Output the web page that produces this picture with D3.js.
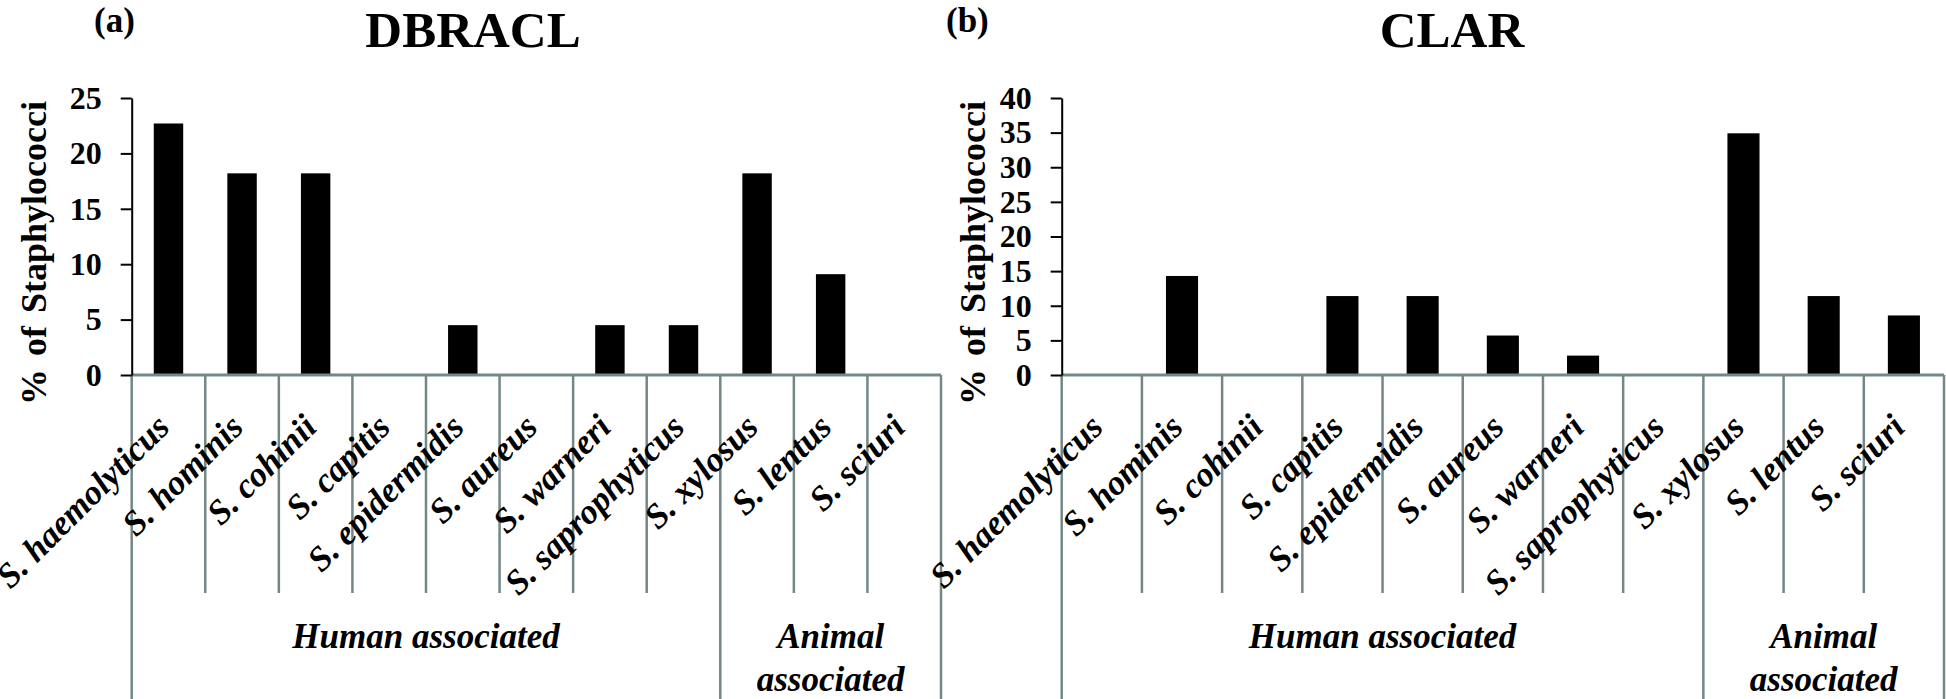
<!DOCTYPE html>
<html>
<head>
<meta charset="utf-8">
<script src="https://cdn.jsdelivr.net/npm/d3@7"></script>
<style>
    body { margin: 0; background: #fff; }
    svg text { font-family: "Liberation Serif", "Times New Roman", serif; font-weight: bold; fill: #000; }
</style>
</head>
<body>
<div id="svgholder"></div>
<script>
const species = ["S. haemolyticus", "S. hominis", "S. cohinii", "S. capitis", "S. epidermidis",
    "S. aureus", "S. warneri", "S. saprophyticus", "S. xylosus", "S. lentus", "S. sciuri"];
const dbraclValues = [22.7, 18.2, 18.2, 0, 4.5, 0, 4.5, 4.5, 18.2, 9.1, 0];
const clarValues = [0, 14.3, 0, 11.4, 11.4, 5.7, 2.8, 0, 34.9, 11.4, 8.6];
const dbraclTicks = [0, 5, 10, 15, 20, 25];
const clarTicks = [0, 5, 10, 15, 20, 25, 30, 35, 40];
const groupNames = [["Human associated"], ["Animal", "associated"]];
const groupStart = [0, 8];
const groupEnd = [8, 11];

const width = 1946;
const height = 699;
const grey = "#738787";

let svg = d3.select("#svgholder").append("svg")
    .attr("width", width)
    .attr("height", height);

const drawPanel = function(p){
    let g = svg.append("g");

    //scales
    let y = d3.scaleLinear().domain([0, p.max]).range([375, 98]);
    let cat = d3.scaleBand().domain(species).range([p.left, p.right]);
    let x = d3.scaleBand().domain(species).range([p.left, p.right])
        .paddingInner(0.6).paddingOuter(0.3);

    //bars
    g.selectAll("rect.bar").data(p.values).enter().append("rect")
        .attr("class", "bar")
        .attr("x", (d, i) => x(species[i]))
        .attr("width", x.bandwidth())
        .attr("y", d => y(d))
        .attr("height", d => y(0) - y(d))
        .attr("fill", "#000");

    //category separators, long ones at group borders
    let edges = d3.range(species.length + 1);
    g.selectAll("line.sep").data(edges).enter().append("line")
        .attr("x1", i => p.left + i * cat.step())
        .attr("x2", i => p.left + i * cat.step())
        .attr("y1", y(0))
        .attr("y2", i => (groupStart.includes(i) || i === species.length) ? height : 593)
        .attr("stroke", grey)
        .attr("stroke-width", 2.5);

    //baseline
    g.append("line")
        .attr("x1", p.left).attr("x2", p.right)
        .attr("y1", y(0)).attr("y2", y(0))
        .attr("stroke", grey).attr("stroke-width", 3);

    //Y axis
    let axis = g.append("g")
        .attr("transform", `translate(${p.left},0)`)
        .call(d3.axisLeft(y).tickValues(p.ticks).tickSizeInner(11).tickSizeOuter(0).tickPadding(19));
    axis.select(".domain").attr("stroke", "#000").attr("stroke-width", 2);
    axis.selectAll(".tick line").attr("stroke", "#000").attr("stroke-width", 2);
    axis.selectAll(".tick text")
        .style("font-family", "'Liberation Serif', serif")
        .style("font-weight", "bold")
        .style("font-size", "32px")
        .attr("fill", "#000");

    //rotated category labels
    g.selectAll("text.cat").data(species).enter().append("text")
        .attr("class", "cat")
        .attr("transform", d => `translate(${cat(d) + cat.bandwidth() / 2 + 3},429) rotate(-45)`)
        .attr("text-anchor", "end")
        .style("font-style", "italic")
        .style("font-size", "35px")
        .text(d => d);

    //group labels
    groupNames.forEach((lines, k) => {
        let cx = (p.left + groupStart[k] * cat.step() + p.left + groupEnd[k] * cat.step()) / 2;
        lines.forEach((t, j) => {
            g.append("text")
                .attr("x", cx)
                .attr("y", 648 + j * 43)
                .attr("text-anchor", "middle")
                .style("font-style", "italic")
                .style("font-size", "35px")
                .text(t);
        });
    });

    //y title
    g.append("text")
        .attr("transform", `translate(${p.yTitleX},405) rotate(-90)`)
        .attr("text-anchor", "start")
        .style("font-size", "36px")
        .style("word-spacing", "4px")
        .text("% of Staphylococci");

    //chart title and panel letter
    g.append("text")
        .attr("x", p.titleX).attr("y", 47)
        .attr("text-anchor", "middle")
        .style("font-size", "51px")
        .text(p.title);
    g.append("text")
        .attr("x", p.labelX).attr("y", 32)
        .style("font-size", "35px")
        .text(p.label);
}

drawPanel({left: 131.7, right: 941, max: 25, values: dbraclValues, ticks: dbraclTicks,
    title: "DBRACL", titleX: 473, label: "(a)", labelX: 94, yTitleX: 46});
drawPanel({left: 1061.7, right: 1944, max: 40, values: clarValues, ticks: clarTicks,
    title: "CLAR", titleX: 1452, label: "(b)", labelX: 946, yTitleX: 985});
</script>
</body>
</html>
